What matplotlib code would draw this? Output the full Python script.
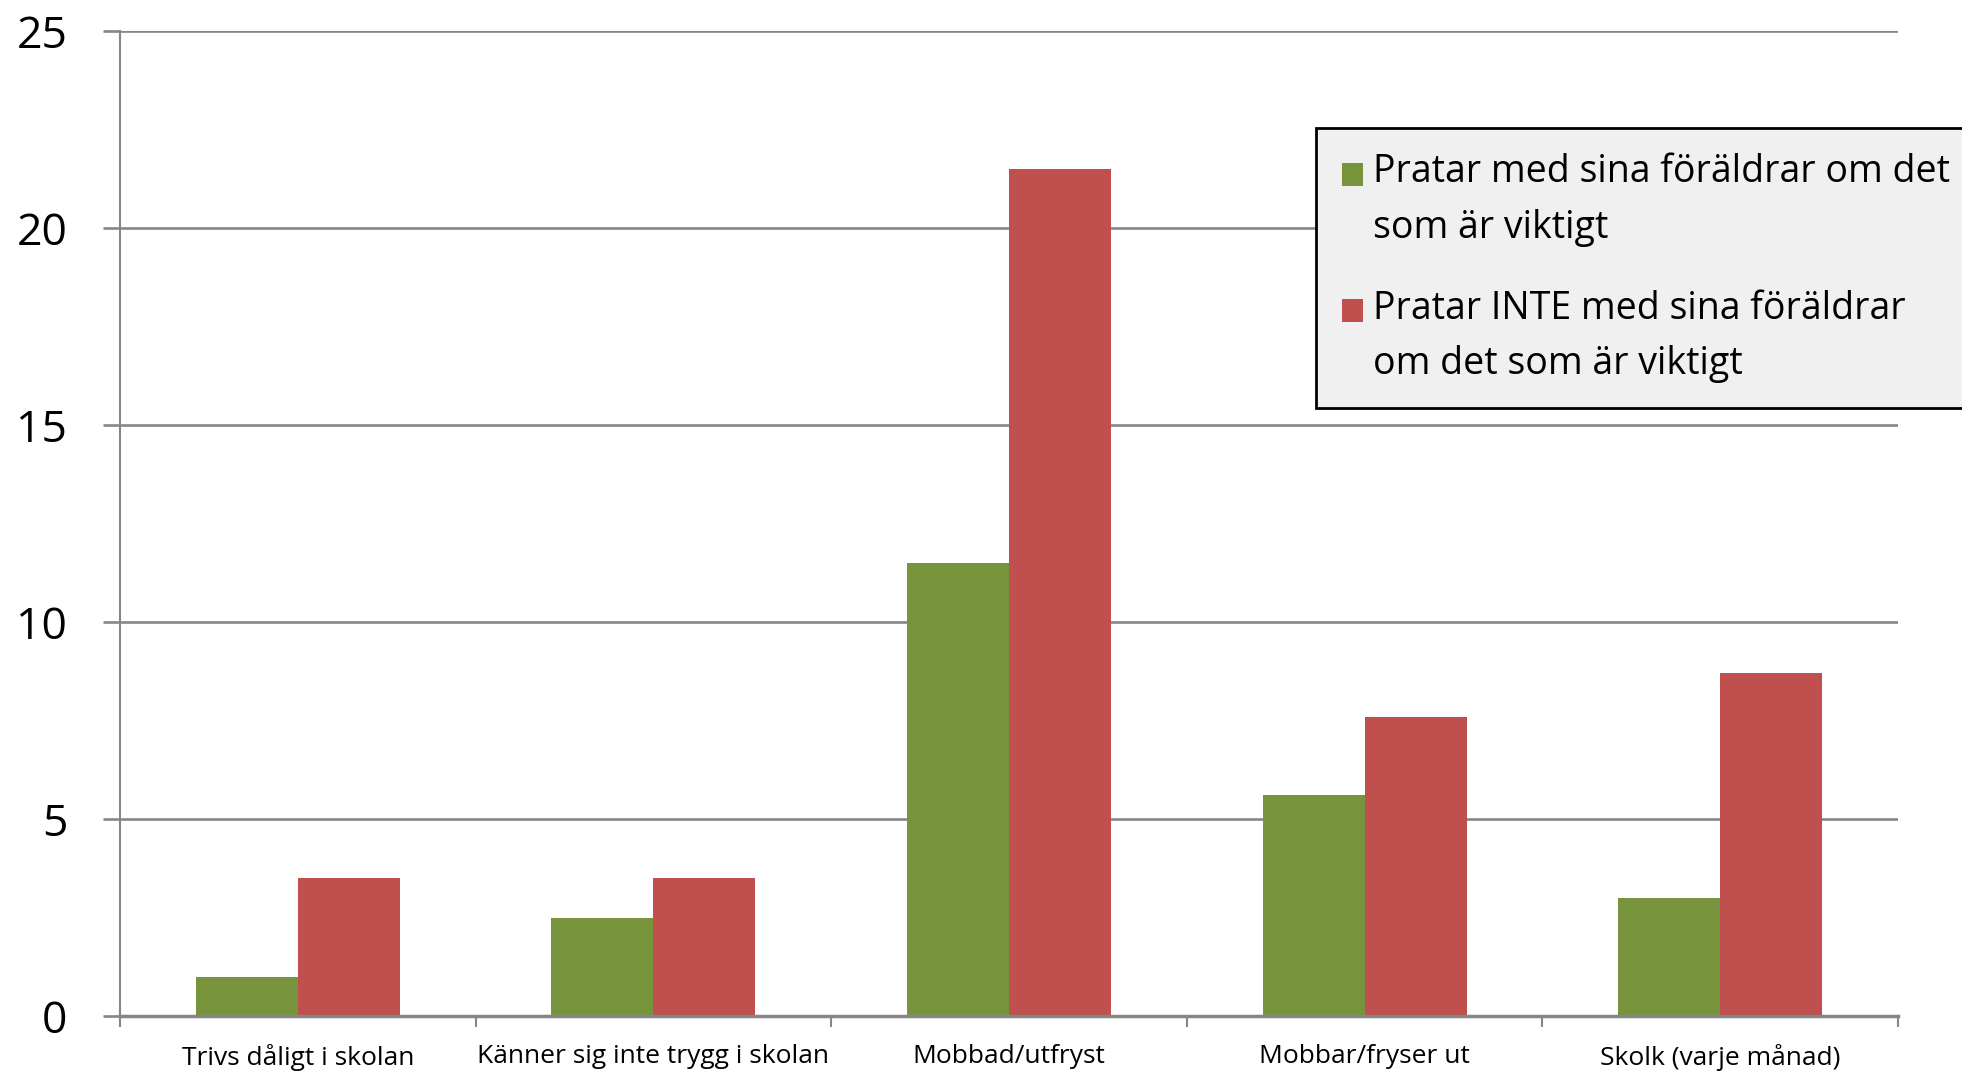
import matplotlib
matplotlib.use("Agg")
import matplotlib.pyplot as plt
import numpy as np
from matplotlib.patches import Patch, Rectangle
from matplotlib.legend_handler import HandlerPatch

categories = ["Trivs dåligt i skolan", "Känner sig inte trygg i skolan", "Mobbad/utfryst",
              "Mobbar/fryser ut", "Skolk (varje månad)"]
series_names = ["Pratar med sina föräldrar om det\nsom är viktigt",
                "Pratar INTE med sina föräldrar\nom det som är viktigt"]
pratar = [1.0, 2.5, 11.5, 5.6, 3.0]
pratar_inte = [3.5, 3.5, 21.5, 7.6, 8.7]
yticks = [0, 5, 10, 15, 20, 25]

FONT = ['Liberation Sans Narrow', 'Open Sans', 'DejaVu Sans']
plt.rcParams['font.family'] = FONT

green = "#77933C"
red = "#C0504D"
grid_c = "#868686"

fig = plt.figure(figsize=(19.62, 10.72), dpi=100)
ax = fig.add_axes([120/1962, 1-1016/1072, (1898-120)/1962, (1016-31)/1072])

x = np.arange(len(categories))
w = 0.287
ax.bar(x - w/2, pratar, width=w, color=green, zorder=3)
ax.bar(x + w/2, pratar_inte, width=w, color=red, zorder=3)

ax.set_xlim(-0.5, len(categories) - 0.5)
ax.set_ylim(0, 25)
ax.set_yticks(yticks)
ax.set_yticklabels([str(v) for v in yticks], fontsize=32)
ax.yaxis.grid(True, color=grid_c, linewidth=1.9, zorder=0)
ax.tick_params(axis='y', length=12, width=1.9, color=grid_c, pad=26)

ax.set_xticks(np.arange(len(categories) + 1) - 0.5)
ax.set_xticklabels([])
ax.set_xticks(x, minor=True)
ax.set_xticklabels(categories, minor=True, fontsize=19)
ax.tick_params(axis='x', which='major', length=8, width=1.5, color=grid_c)
ax.tick_params(axis='x', which='minor', length=0, pad=20)

for s in ['top', 'right']:
    ax.spines[s].set_visible(False)
ax.spines['left'].set_color(grid_c)
ax.spines['left'].set_linewidth(1.5)
ax.spines['bottom'].set_color(grid_c)
ax.spines['bottom'].set_linewidth(2.5)
ax.spines['bottom'].set_zorder(4)


def top_square(legend, orig_handle, xdescent, ydescent, width, height, fontsize):
    return Rectangle((-xdescent, -ydescent + 19.5), width, height)


handles = [Patch(facecolor=green), Patch(facecolor=red)]
leg = fig.legend(handles, series_names, loc='upper left',
                 bbox_to_anchor=(1316/1962, 1-128/1072), fontsize=27,
                 frameon=True, fancybox=False, framealpha=1,
                 facecolor="#F0F0F0", edgecolor="black",
                 handlelength=0.58, handleheight=0.58, handletextpad=0.27,
                 labelspacing=1.15, borderpad=0.68, borderaxespad=0,
                 handler_map={Patch: HandlerPatch(patch_func=top_square)})
leg.get_frame().set_linewidth(2)
for t in leg.get_texts():
    t.set_linespacing(1.59)

fig.savefig("out.png", dpi=100)
